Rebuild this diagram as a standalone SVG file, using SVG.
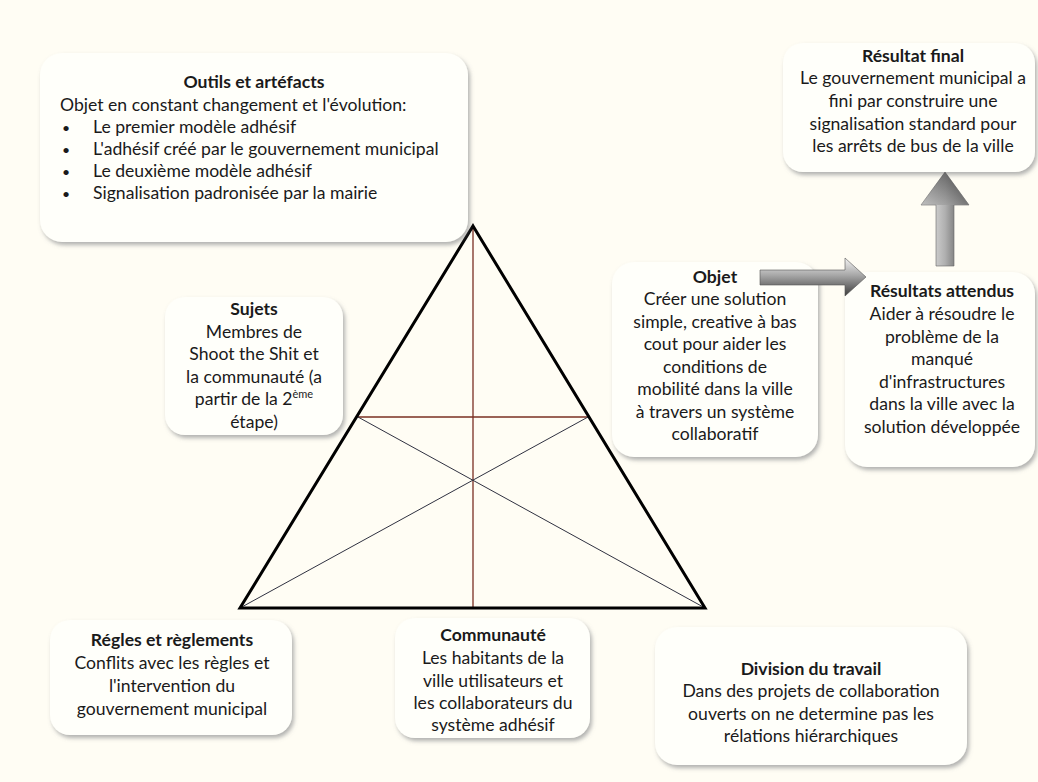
<svg xmlns="http://www.w3.org/2000/svg" width="1038" height="782" viewBox="0 0 1038 782">
<defs>
<filter id="sh" x="-10%" y="-10%" width="125%" height="130%">
<feDropShadow dx="2" dy="3" stdDeviation="2.2" flood-color="#6f7378" flood-opacity="0.55"/>
</filter>
<linearGradient id="gR" x1="0" y1="0" x2="0" y2="1">
<stop offset="0" stop-color="#f4f4f4"/>
<stop offset="0.45" stop-color="#a8a8a8"/>
<stop offset="1" stop-color="#3c3c3c"/>
</linearGradient>
<linearGradient id="gU" x1="0" y1="0" x2="1" y2="0">
<stop offset="0" stop-color="#f7f7f7"/>
<stop offset="0.5" stop-color="#b0b0b0"/>
<stop offset="1" stop-color="#404040"/>
</linearGradient>
<linearGradient id="gUh" x1="0" y1="0" x2="0" y2="1">
<stop offset="0" stop-color="#3a3a3a"/>
<stop offset="1" stop-color="#9a9a9a"/>
</linearGradient>
<style>
.box{fill:#fffffa;filter:url(#sh);}
text{font-family:Lato,"Liberation Sans",sans-serif;font-size:17.6px;fill:#1a1a1a;}
.c{text-anchor:middle;}
.b{font-weight:bold;}
.bl{font-size:14px;}
.tri{fill:none;stroke:#000;stroke-width:3;stroke-linejoin:miter;}
.br{stroke:#7a2f22;stroke-width:1.3;fill:none;}
.dg{stroke:#2f3140;stroke-width:1;fill:none;}
</style>
</defs>
<rect width="1038" height="782" fill="#fffdf4"/>

<g id="triangle">
<line class="br" x1="473" y1="226" x2="473" y2="608"/>
<line class="br" x1="358" y1="417" x2="588" y2="417"/>
<line class="dg" x1="358" y1="417" x2="705" y2="608"/>
<line class="dg" x1="588" y1="417" x2="240" y2="608"/>
<polygon class="tri" points="473,226 705,608 240,608"/>
</g>

<g id="outils">
<rect class="box" x="40" y="53" width="428" height="189" rx="22"/>
<text class="c b" x="254" y="88">Outils et artéfacts</text>
<text x="60" y="111">Objet en constant changement et l'évolution:</text>
<text class="bl" x="62" y="133">•</text><text x="93" y="133">Le premier modèle adhésif</text>
<text class="bl" x="62" y="155">•</text><text x="93" y="155">L'adhésif créé par le gouvernement municipal</text>
<text class="bl" x="62" y="177">•</text><text x="93" y="177">Le deuxième modèle adhésif</text>
<text class="bl" x="62" y="199">•</text><text x="93" y="199">Signalisation padronisée par la mairie</text>
</g>

<g id="final">
<rect class="box" x="783" y="43" width="252" height="129" rx="20"/>
<text class="c b" x="913" y="62">Résultat final</text>
<text class="c" x="913" y="84">Le gouvernement municipal a</text>
<text class="c" x="913" y="107">fini par construire une</text>
<text class="c" x="913" y="130">signalisation standard pour</text>
<text class="c" x="913" y="152">les arrêts de bus de la ville</text>
</g>

<g id="sujets">
<rect class="box" x="165" y="297" width="178" height="138" rx="20"/>
<text class="c b" x="254" y="315">Sujets</text>
<text class="c" x="254" y="338">Membres de</text>
<text class="c" x="254" y="360">Shoot the Shit et</text>
<text class="c" x="254" y="383">la communauté (a</text>
<text class="c" x="254" y="405">partir de la 2<tspan font-size="11" dy="-7">ème</tspan></text>
<text class="c" x="254" y="428">étape)</text>
</g>

<g id="objet">
<rect class="box" x="612" y="262" width="206" height="195" rx="22"/>
<text class="c b" x="715" y="283">Objet</text>
<text class="c" x="715" y="305">Créer une solution</text>
<text class="c" x="715" y="328">simple, creative à bas</text>
<text class="c" x="715" y="350">cout pour aider les</text>
<text class="c" x="715" y="373">conditions de</text>
<text class="c" x="715" y="395">mobilité dans la ville</text>
<text class="c" x="715" y="418">à travers un système</text>
<text class="c" x="715" y="440">collaboratif</text>
</g>

<g id="attendus">
<rect class="box" x="845" y="272" width="190" height="195" rx="22"/>
<text class="c b" x="942" y="297">Résultats attendus</text>
<text class="c" x="942" y="320">Aider à résoudre le</text>
<text class="c" x="942" y="343">problème de la</text>
<text class="c" x="942" y="365">manqué</text>
<text class="c" x="942" y="388">d'infrastructures</text>
<text class="c" x="942" y="410">dans la ville avec la</text>
<text class="c" x="942" y="433">solution développée</text>
</g>

<g id="regles">
<rect class="box" x="50" y="620" width="242" height="115" rx="20"/>
<text class="c b" x="172" y="646">Régles et règlements</text>
<text class="c" x="172" y="669">Conflits avec les règles et</text>
<text class="c" x="172" y="692">l'intervention du</text>
<text class="c" x="172" y="715">gouvernement  municipal</text>
</g>

<g id="communaute">
<rect class="box" x="395" y="618" width="195" height="120" rx="20"/>
<text class="c b" x="493" y="641">Communauté</text>
<text class="c" x="493" y="664">Les habitants de la</text>
<text class="c" x="493" y="687">ville utilisateurs et</text>
<text class="c" x="493" y="709">les collaborateurs du</text>
<text class="c" x="493" y="731">système adhésif</text>
</g>

<g id="division">
<rect class="box" x="655" y="627" width="312" height="138" rx="22"/>
<text class="c b" x="811" y="675">Division  du travail</text>
<text class="c" x="811" y="697">Dans des projets de collaboration</text>
<text class="c" x="811" y="720">ouverts on ne determine pas les</text>
<text class="c" x="811" y="742">rélations hiérarchiques</text>
</g>

<g id="connectors">
<polygon points="760,270 845,270 845,258 866,277 845,296 845,285 760,285" fill="url(#gR)" stroke="#555" stroke-width="0.6"/>
<polygon points="936,266 936,205 921,205 945,172 969,205 954,205 954,266" fill="url(#gU)" stroke="#666" stroke-width="0.6"/>
<polygon points="921,205 945,172 969,205" fill="url(#gUh)" opacity="0.6"/>
</g>
</svg>
